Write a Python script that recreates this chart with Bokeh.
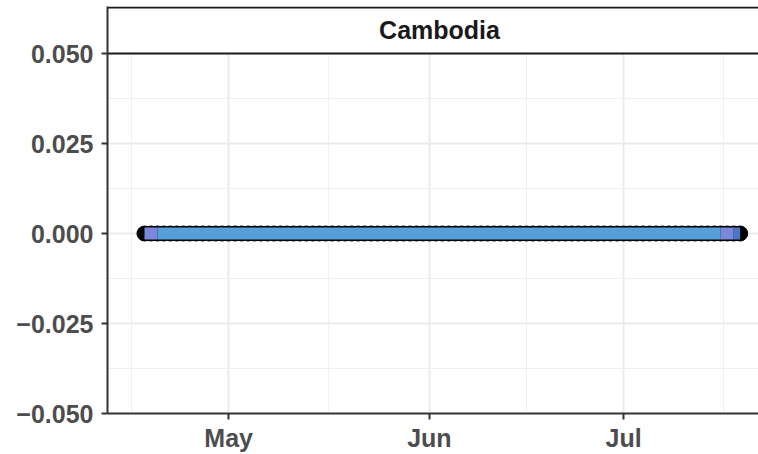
from datetime import datetime, timedelta
from bokeh.plotting import figure
from bokeh.models import FixedTicker, Range1d, Label, ColumnDataSource
from bokeh.embed import file_html
from bokeh.resources import INLINE

# ---- data ----
country = "Cambodia"
start_date = datetime(2020, 4, 18)
n_days = 93
dates = [start_date + timedelta(days=i) for i in range(n_days)]
values = [0.0] * n_days
# colour band segments: (start day index, end day index, colour)
seg_start = [0, 2, 89, 91]
seg_end = [2, 89, 91, 92]
seg_color = ["#7b87d8", "#569fd8", "#7b87d8", "#4c77c9"]

y_ticks = [-0.05, -0.025, 0.0, 0.025, 0.05]
y_minor = [-0.0375, -0.0125, 0.0125, 0.0375]
x_tick_dates = [datetime(2020, 5, 1), datetime(2020, 6, 1), datetime(2020, 7, 1)]
x_tick_labels = ["May", "Jun", "Jul"]
x_minor_dates = [datetime(2020, 4, 16), datetime(2020, 5, 16, 12), datetime(2020, 6, 16), datetime(2020, 7, 16, 12)]

def ms(d):
    return (d - datetime(1970, 1, 1)).total_seconds() * 1000.0

FONT = "Liberation Sans"
DAY = 86400000.0
PX_PER_DAY = 6.475

x_start = ms(datetime(2020, 4, 12, 7))
x_end = x_start + 651 / PX_PER_DAY * DAY
panel_end = x_start + 664 / PX_PER_DAY * DAY

p = figure(width=758, height=454, x_axis_type="datetime",
           output_backend="svg", toolbar_location=None,
           x_range=Range1d(x_start, x_end), y_range=Range1d(-0.05, 0.06306),
           min_border_left=107, min_border_right=0, min_border_top=6, min_border_bottom=41)
p.background_fill_color = "white"
p.border_fill_color = "white"
p.outline_line_color = None

# grid
p.xgrid.ticker = FixedTicker(ticks=[ms(d) for d in x_tick_dates], minor_ticks=[ms(d) for d in x_minor_dates])
p.ygrid.ticker = FixedTicker(ticks=y_ticks, minor_ticks=y_minor)
for g in (p.xgrid[0], p.ygrid[0]):
    g.grid_line_color = "#ebebeb"
    g.grid_line_width = 2
    g.minor_grid_line_color = "#f0f0f0"
    g.minor_grid_line_width = 1

# axes
p.xaxis.ticker = FixedTicker(ticks=[ms(d) for d in x_tick_dates])
p.xaxis.major_label_overrides = {ms(d): lab for d, lab in zip(x_tick_dates, x_tick_labels)}
p.yaxis.ticker = FixedTicker(ticks=y_ticks)
p.yaxis.major_label_overrides = {v: ("%.3f" % v).replace("-", "\u2212") for v in y_ticks}
for ax in (p.xaxis[0], p.yaxis[0]):
    ax.axis_line_color = "#333333"
    ax.axis_line_width = 2
    ax.major_tick_line_color = "#333333"
    ax.major_tick_line_width = 2
    ax.major_tick_out = 6
    ax.major_tick_in = 0
    ax.minor_tick_line_color = None
    ax.major_label_text_font = FONT
    ax.major_label_text_font_style = "bold"
    ax.major_label_text_font_size = "25px"
    ax.major_label_text_color = "#4d4d4d"
p.xaxis.major_label_standoff = 4
p.yaxis.major_label_standoff = 8

# data marks
src = ColumnDataSource(dict(x=dates, y=values))
p.scatter("x", "y", source=src, size=15, color="black")
p.line("x", "y", source=src, line_width=15, line_color="black", line_dash="4 4", line_cap="butt")
seg_src = ColumnDataSource(dict(
    x0=[dates[i] for i in seg_start], x1=[dates[i] for i in seg_end],
    y0=[values[i] for i in seg_start], y1=[values[i] for i in seg_end], c=seg_color))
p.segment("x0", "y0", "x1", "y1", source=seg_src, line_color="c", line_width=12, line_cap="butt")

# facet strip
p.quad(left=x_start - 30 * DAY, right=x_end + 30 * DAY, bottom=0.05, top=0.0628,
       fill_color="white", line_color="#1a1a1a", line_width=2)
p.add_layout(Label(x=(x_start + panel_end) / 2, y=(0.05 + 0.0628) / 2, text=country,
                   text_font=FONT, text_font_style="bold", text_font_size="25px",
                   text_color="#1a1a1a", text_align="center", text_baseline="middle"))

open("out.html", "w").write(file_html(p, INLINE))
